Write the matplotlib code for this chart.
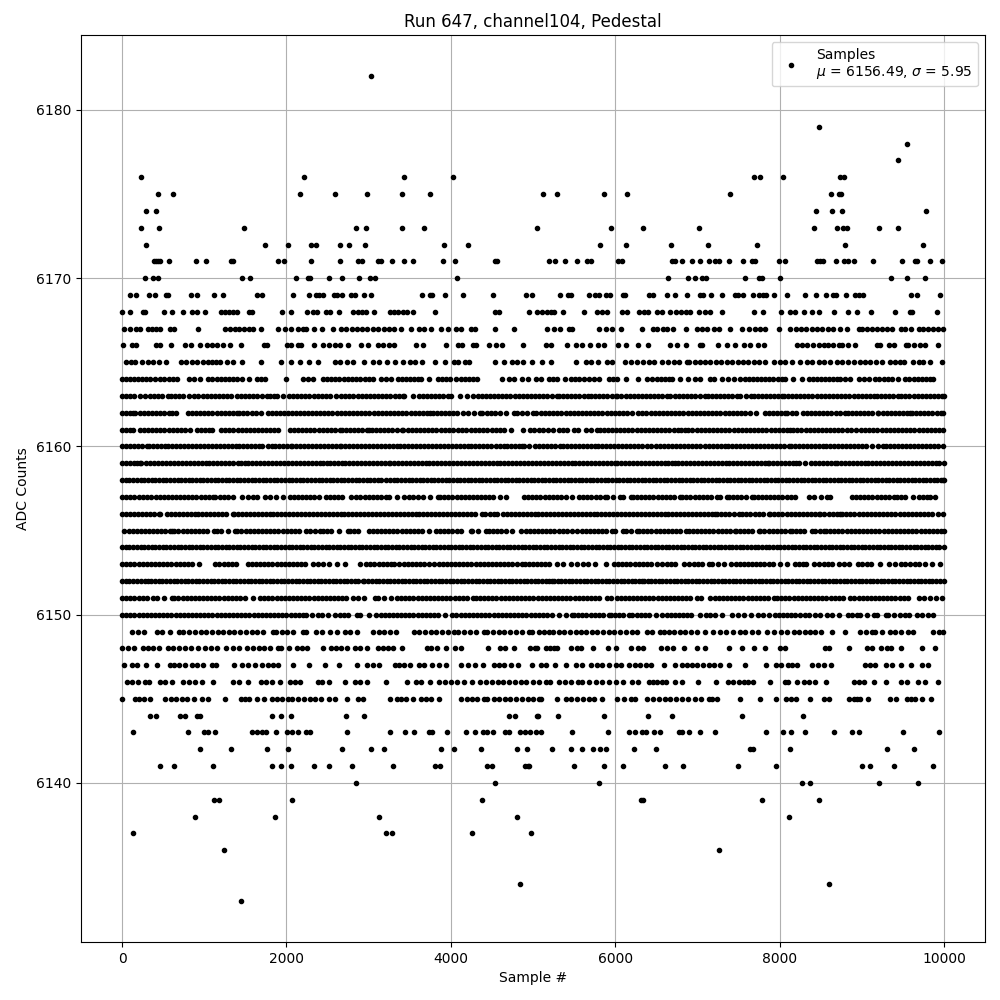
import matplotlib
matplotlib.use("Agg")
import matplotlib.pyplot as plt

# sample numbers, one list per ADC level
s_6182 = [3026]
s_6179 = [8479]
s_6178 = [9548]
s_6177 = [9438]
s_6176 = [226, 2214, 3426, 4032, 7689, 7762, 8041, 8734, 8786]
s_6175 = [432, 614, 2165, 2590, 2977, 3402, 3741, 5125, 5295, 5866, 6146, 7397, 8624, 8722, 8746]
s_6174 = [291, 412, 8442, 8637, 8758, 9779]
s_6173 = [226, 444, 1487, 2844, 2965, 3402, 3668, 5050, 5951, 6340, 7021, 8418, 8697, 8770, 8823, 9208, 9438]
s_6172 = [291, 1741, 2020, 2299, 2359, 2650, 2759, 2953, 3911, 4214, 5818, 6134, 6680, 7130, 7725, 8794, 9742]
s_6171 = [384, 408, 432, 456, 566, 905, 1026, 1321, 1345, 1899, 1972, 2299, 2650, 2868, 2917, 3111, 3151,
          3280, 3426, 3535, 3899, 4056, 4537, 4565, 5198, 5271, 5393, 5538, 5660, 5708, 6036, 6085, 6693,
          6729, 6818, 6935, 7033, 7142, 7215, 7264, 7385, 7555, 7665, 7701, 7993, 8066, 8454, 8490, 8527,
          8685, 8782, 8831, 8904, 9135, 9487, 9645, 9669, 9827, 9973]
s_6170 = [275, 376, 432, 1462, 1559, 2117, 2262, 2287, 2517, 2674, 2880, 3014, 3074, 4080, 6644, 6887, 6972,
          7057, 7106, 7580, 7750, 7786, 8005, 9353, 9548, 9767]
s_6169 = [93, 166, 323, 396, 529, 553, 844, 917, 1123, 1232, 1644, 1705, 2081, 2275, 2359, 2396, 2444, 2578,
          2614, 2674, 2784, 2832, 2941, 3026, 3644, 3741, 3765, 3923, 4153, 4517, 4917, 4992, 5332, 5429, 5465,
          5684, 5757, 5806, 5891, 5939, 6097, 6122, 6413, 6462, 6632, 6729, 6875, 7033, 7069, 7166, 7300, 7458,
          7494, 7555, 7677, 7750, 7798, 7835, 7932, 8090, 8308, 8442, 8564, 8649, 8685, 8807, 8916, 8965, 9013,
          9597, 9669, 9949]
s_6168 = [0, 93, 250, 283, 505, 602, 747, 856, 909, 1014, 1208, 1256, 1305, 1353, 1402, 1547, 1584, 1947, 2056,
          2250, 2323, 2372, 2481, 2529, 2638, 2808, 2868, 2917, 2965, 3062, 3256, 3305, 3353, 3418, 3466, 3535,
          3802, 4533, 4581, 4953, 5052, 5113, 5170, 5215, 5255, 5364, 5623, 5781, 5842, 5903, 6085, 6146, 6288,
          6348, 6401, 6510, 6571, 6672, 6735, 6795, 6855, 6915, 7016, 7088, 7158, 7300, 7689, 7794, 8017, 8130,
          8191, 8296, 8394, 8475, 8661, 8835, 8940, 9110, 9406, 9588, 9608, 9912]
s_6167 = [20, 93, 174, 214, 311, 364, 412, 465, 586, 634, 929, 1252, 1310, 1368, 1426, 1487, 1540, 1596, 1689,
          1899, 1988, 2060, 2141, 2202, 2242, 2335, 2432, 2565, 2667, 2730, 2795, 2860, 2925, 2985, 3050, 3111,
          3192, 3244, 3313, 3394, 3515, 3608, 3676, 3757, 3886, 3963, 4068, 4129, 4242, 4290, 4541, 4767, 5174,
          5259, 5328, 5437, 5478, 5806, 5891, 5964, 6069, 6328, 6462, 6510, 6579, 6632, 6705, 6855, 6996, 7060,
          7118, 7199, 7260, 7401, 7543, 7624, 7705, 7766, 7823, 7993, 8130, 8195, 8260, 8325, 8390, 8455, 8520,
          8585, 8650, 8738, 8819, 8961, 9001, 9062, 9125, 9190, 9250, 9310, 9365, 9479, 9527, 9600, 9690, 9750,
          9810, 9870, 9930, 9993]
s_6166 = [8, 125, 174, 412, 465, 590, 760, 844, 953, 1030, 1095, 1160, 1225, 1313, 1450, 1725, 1765, 2008, 2060,
          2141, 2182, 2335, 2444, 2515, 2586, 2654, 2751, 2901, 2990, 3111, 3180, 3245, 3313, 3571, 3656, 3939,
          4084, 4141, 4270, 4303, 4464, 4545, 4626, 4880, 5162, 5222, 5417, 5518, 5599, 5696, 5793, 5866, 6036,
          6126, 6279, 6401, 6668, 6753, 6863, 7033, 7057, 7251, 7361, 7454, 7567, 7644, 7737, 7806, 8211, 8272,
          8333, 8405, 8475, 8535, 8590, 8645, 8717, 8758, 8831, 8916, 9183, 9223, 9337, 9394, 9540, 9568, 9641,
          9705, 9771, 9928]
s_6165 = [52, 110, 162, 242, 310, 375, 444, 529, 715, 780, 850, 915, 985, 1050, 1091, 1143, 1192, 1272, 1353,
          1454, 1693, 1931, 2056, 2161, 2275, 2380, 2586, 2646, 2735, 2808, 2949, 3050, 3131, 3220, 3317, 3422,
          3507, 3567, 3648, 3810, 3923, 4040, 4092, 4173, 4222, 4541, 4642, 4747, 4808, 4880, 4989, 5113, 5214,
          5518, 5639, 5700, 5793, 5903, 5964, 6113, 6194, 6267, 6340, 6409, 6474, 6571, 6640, 6710, 6780, 6875,
          6895, 6965, 7030, 7098, 7158, 7225, 7290, 7355, 7420, 7490, 7555, 7620, 7685, 7746, 7827, 7928, 8000,
          8070, 8150, 8252, 8333, 8394, 8475, 8545, 8616, 8697, 8765, 8835, 8905, 8975, 9041, 9102, 9170, 9240,
          9345, 9406, 9465, 9519, 9629, 9690, 9750, 9831, 9973]
s_6164 = [0, 50, 101, 141, 190, 240, 290, 340, 404, 465, 515, 565, 615, 667, 816, 880, 949, 1050, 1100, 1150, 1200,
          1250, 1300, 1350, 1400, 1454, 1547, 1636, 1690, 1737, 2000, 2202, 2265, 2323, 2444, 2495, 2545, 2595,
          2645, 2695, 2745, 2795, 2845, 2895, 2950, 3000, 3050, 3151, 3210, 3272, 3353, 3405, 3455, 3505, 3555,
          3595, 3636, 3737, 3838, 3890, 3940, 3990, 4060, 4121, 4170, 4220, 4270, 4323, 4618, 4707, 4767, 4868,
          4941, 5030, 5093, 5194, 5245, 5295, 5385, 5457, 5510, 5560, 5620, 5680, 5741, 5802, 5923, 5975, 6024,
          6134, 6279, 6389, 6450, 6510, 6560, 6610, 6655, 6693, 6794, 6887, 6968, 7037, 7158, 7199, 7300, 7370,
          7442, 7523, 7575, 7625, 7675, 7725, 7775, 7825, 7875, 7925, 7975, 8025, 8070, 8163, 8272, 8353, 8405,
          8455, 8505, 8555, 8605, 8655, 8700, 8738, 8798, 8860, 8960, 9021, 9090, 9163, 9215, 9265, 9315, 9365,
          9446, 9527, 9580, 9630, 9680, 9730, 9780, 9830, 9871]
s_6163 = [0, 50, 100, 150, 214, 283, 335, 385, 435, 490, 554, 594, 645, 695, 745, 810, 877, 929, 980, 1030, 1080,
          1130, 1180, 1230, 1280, 1330, 1394, 1442, 1495, 1545, 1595, 1645, 1700, 1765, 1798, 1846, 1890, 1960,
          2031, 2080, 2130, 2180, 2230, 2280, 2330, 2380, 2430, 2480, 2530, 2606, 2667, 2715, 2765, 2815, 2865,
          2915, 2965, 3015, 3065, 3115, 3165, 3215, 3265, 3315, 3365, 3414, 3434, 3544, 3608, 3660, 3710, 3760,
          3810, 3860, 3910, 3960, 4000, 4113, 4202, 4265, 4325, 4384, 4425, 4475, 4525, 4575, 4625, 4675, 4725,
          4775, 4825, 4875, 4925, 4975, 5025, 5075, 5125, 5174, 5235, 5295, 5315, 5365, 5415, 5465, 5515, 5565,
          5615, 5672, 5704, 5755, 5805, 5855, 5905, 5955, 6004, 6024, 6075, 6125, 6175, 6225, 6275, 6325, 6375,
          6425, 6475, 6525, 6575, 6632, 6672, 6725, 6775, 6825, 6875, 6925, 6975, 7030, 7089, 7126, 7175, 7225,
          7275, 7325, 7375, 7425, 7482, 7515, 7585, 7656, 7685, 7735, 7785, 7835, 7885, 7935, 7985, 8029, 8049,
          8100, 8150, 8200, 8250, 8300, 8350, 8400, 8450, 8500, 8550, 8600, 8650, 8700, 8750, 8800, 8850, 8900,
          8950, 9000, 9050, 9100, 9143, 9183, 9235, 9285, 9335, 9385, 9438, 9479, 9530, 9580, 9630, 9680, 9730,
          9779, 9830, 9880, 9930, 9970, 9999]
s_6162 = [0, 50, 100, 134, 162, 215, 265, 315, 365, 415, 465, 515, 565, 612, 659, 796, 850, 901, 950, 1000, 1050,
          1100, 1150, 1200, 1250, 1300, 1350, 1394, 1426, 1475, 1525, 1575, 1625, 1685, 1770, 1820, 1870, 1920,
          1970, 2020, 2070, 2120, 2161, 2210, 2260, 2310, 2360, 2410, 2460, 2510, 2560, 2610, 2660, 2710, 2760,
          2810, 2860, 2910, 2960, 3010, 3060, 3110, 3160, 3210, 3260, 3310, 3360, 3410, 3460, 3510, 3560, 3610,
          3660, 3710, 3749, 3778, 3830, 3880, 3930, 3980, 4030, 4080, 4149, 4214, 4280, 4351, 4384, 4435, 4485,
          4535, 4594, 4674, 4763, 4803, 4860, 4929, 5000, 5040, 5093, 5145, 5195, 5245, 5295, 5345, 5395, 5445,
          5495, 5545, 5595, 5645, 5695, 5745, 5795, 5845, 5895, 5945, 5995, 6045, 6095, 6145, 6206, 6280, 6330,
          6380, 6430, 6480, 6530, 6580, 6630, 6680, 6730, 6780, 6830, 6880, 6930, 6980, 7030, 7080, 7130, 7180,
          7230, 7280, 7330, 7380, 7430, 7480, 7530, 7580, 7644, 7713, 7818, 7870, 7920, 7970, 8020, 8070, 8090,
          8150, 8203, 8280, 8330, 8380, 8430, 8480, 8530, 8580, 8630, 8680, 8730, 8798, 8827, 8880, 8930, 8980,
          9030, 9080, 9130, 9195, 9203, 9255, 9305, 9355, 9405, 9455, 9505, 9555, 9588, 9608, 9660, 9710, 9760,
          9810, 9860, 9910, 9960, 9993]
s_6161 = [0, 50, 93, 129, 214, 265, 315, 365, 415, 465, 515, 565, 615, 665, 715, 770, 828, 909, 960, 1010, 1060,
          1091, 1204, 1255, 1305, 1355, 1405, 1455, 1505, 1555, 1605, 1655, 1705, 1755, 1805, 1850, 1891, 2040,
          2090, 2140, 2190, 2240, 2290, 2340, 2390, 2440, 2490, 2540, 2590, 2646, 2674, 2725, 2775, 2825, 2875,
          2925, 2975, 3010, 3038, 3090, 3140, 3190, 3240, 3290, 3340, 3402, 3422, 3475, 3525, 3575, 3625, 3675,
          3725, 3775, 3825, 3875, 3925, 3975, 4025, 4085, 4141, 4190, 4240, 4290, 4340, 4390, 4444, 4497, 4550,
          4600, 4650, 4727, 4880, 4957, 5010, 5070, 5125, 5185, 5243, 5315, 5365, 5415, 5498, 5542, 5640, 5710,
          5781, 5810, 5860, 5910, 5960, 6010, 6060, 6110, 6160, 6210, 6260, 6310, 6360, 6410, 6460, 6510, 6560,
          6610, 6660, 6710, 6760, 6800, 6846, 6887, 6940, 6990, 7040, 7090, 7140, 7190, 7240, 7290, 7340, 7390,
          7440, 7490, 7540, 7590, 7640, 7690, 7740, 7790, 7840, 7890, 7940, 7990, 8040, 8090, 8130, 8163, 8215,
          8265, 8315, 8365, 8415, 8465, 8515, 8565, 8615, 8665, 8715, 8765, 8815, 8865, 8928, 8989, 9040, 9090,
          9140, 9190, 9240, 9290, 9340, 9390, 9440, 9490, 9540, 9590, 9640, 9690, 9740, 9790, 9840, 9890, 9940,
          9993]
s_6160 = [0, 48, 96, 144, 192, 240, 303, 323, 372, 420, 468, 516, 564, 612, 660, 708, 756, 804, 852, 900, 948, 996,
          1044, 1092, 1140, 1188, 1236, 1284, 1332, 1380, 1428, 1476, 1524, 1572, 1620, 1660, 1697, 1770, 1818,
          1866, 1914, 1962, 2010, 2060, 2072, 2120, 2168, 2216, 2264, 2312, 2360, 2408, 2456, 2504, 2552, 2600,
          2646, 2667, 2715, 2763, 2811, 2859, 2907, 2955, 3003, 3051, 3099, 3147, 3195, 3243, 3291, 3339, 3387,
          3435, 3483, 3531, 3579, 3627, 3675, 3723, 3771, 3819, 3867, 3915, 3963, 4011, 4059, 4107, 4155, 4203,
          4251, 4299, 4347, 4395, 4443, 4491, 4545, 4593, 4641, 4689, 4737, 4785, 4830, 4868, 4888, 4951, 5024,
          5072, 5120, 5168, 5216, 5264, 5324, 5364, 5412, 5460, 5508, 5556, 5604, 5652, 5700, 5748, 5796, 5844,
          5892, 5940, 5988, 6036, 6084, 6132, 6180, 6228, 6276, 6330, 6389, 6441, 6498, 6546, 6594, 6642, 6690,
          6738, 6786, 6834, 6882, 6930, 6978, 7026, 7097, 7138, 7186, 7234, 7282, 7330, 7378, 7426, 7474, 7522,
          7570, 7618, 7666, 7714, 7762, 7810, 7858, 7906, 7954, 8002, 8050, 8118, 8138, 8186, 8234, 8282, 8330,
          8378, 8426, 8474, 8522, 8570, 8618, 8666, 8714, 8762, 8810, 8858, 8906, 8954, 9005, 9050, 9122, 9203,
          9252, 9300, 9348, 9396, 9444, 9492, 9540, 9588, 9636, 9684, 9732, 9780, 9828, 9876, 9924, 9993]
s_6159 = [0, 48, 96, 144, 180, 222, 234, 295, 343, 391, 439, 487, 535, 583, 631, 679, 727, 775, 823, 871, 919, 967,
          1015, 1063, 1111, 1159, 1207, 1255, 1303, 1351, 1414, 1442, 1490, 1538, 1586, 1634, 1682, 1730, 1778,
          1826, 1874, 1922, 1970, 2018, 2066, 2114, 2162, 2210, 2258, 2306, 2354, 2402, 2450, 2490, 2525, 2574,
          2622, 2670, 2718, 2766, 2814, 2862, 2910, 2958, 3006, 3054, 3102, 3150, 3198, 3244, 3260, 3308, 3356,
          3404, 3452, 3500, 3548, 3596, 3644, 3692, 3740, 3788, 3836, 3884, 3932, 3980, 4028, 4076, 4124, 4172,
          4220, 4268, 4316, 4364, 4412, 4460, 4508, 4556, 4604, 4652, 4700, 4748, 4796, 4844, 4892, 4940, 4988,
          5036, 5084, 5132, 5180, 5228, 5276, 5324, 5372, 5420, 5468, 5516, 5564, 5612, 5660, 5708, 5756, 5804,
          5852, 5900, 5948, 5996, 6024, 6072, 6120, 6168, 6216, 6264, 6312, 6360, 6408, 6456, 6504, 6552, 6600,
          6648, 6696, 6733, 6766, 6814, 6862, 6910, 6958, 7006, 7054, 7102, 7150, 7198, 7246, 7294, 7342, 7390,
          7438, 7486, 7534, 7582, 7630, 7678, 7726, 7774, 7822, 7859, 7875, 7923, 7971, 8019, 8067, 8115, 8163,
          8205, 8240, 8313, 8385, 8433, 8481, 8529, 8577, 8625, 8669, 8697, 8745, 8793, 8841, 8889, 8937, 8985,
          9033, 9081, 9129, 9177, 9225, 9273, 9321, 9369, 9417, 9465, 9513, 9561, 9609, 9657, 9705, 9753, 9801,
          9849, 9897, 9945, 9999]
s_6158 = [0, 45, 90, 135, 180, 225, 270, 315, 360, 405, 450, 495, 540, 585, 630, 675, 720, 765, 810, 855, 900, 945,
          990, 1035, 1080, 1125, 1170, 1215, 1260, 1305, 1350, 1395, 1440, 1485, 1530, 1575, 1620, 1665, 1710,
          1755, 1800, 1845, 1890, 1935, 1980, 2025, 2070, 2115, 2160, 2205, 2250, 2295, 2345, 2390, 2435, 2480,
          2525, 2570, 2615, 2660, 2705, 2750, 2795, 2840, 2885, 2930, 2975, 3020, 3065, 3110, 3155, 3215, 3260,
          3305, 3350, 3395, 3440, 3485, 3530, 3575, 3620, 3665, 3710, 3755, 3800, 3845, 3890, 3935, 3980, 4025,
          4070, 4115, 4160, 4205, 4250, 4295, 4340, 4385, 4430, 4475, 4520, 4565, 4610, 4655, 4700, 4745, 4790,
          4835, 4880, 4925, 4970, 5015, 5060, 5105, 5150, 5195, 5240, 5285, 5330, 5375, 5420, 5465, 5510, 5555,
          5600, 5645, 5690, 5735, 5780, 5825, 5870, 5915, 5960, 6005, 6050, 6095, 6140, 6185, 6230, 6275, 6320,
          6365, 6410, 6455, 6500, 6545, 6590, 6635, 6680, 6725, 6770, 6815, 6860, 6905, 6950, 6995, 7040, 7085,
          7130, 7175, 7220, 7265, 7310, 7355, 7400, 7445, 7490, 7535, 7580, 7625, 7670, 7715, 7760, 7805, 7850,
          7895, 7940, 7985, 8030, 8075, 8120, 8165, 8210, 8255, 8300, 8345, 8390, 8435, 8480, 8525, 8570, 8615,
          8660, 8705, 8750, 8795, 8840, 8885, 8930, 8975, 9020, 9065, 9110, 9155, 9200, 9245, 9290, 9335, 9380,
          9425, 9470, 9515, 9560, 9605, 9650, 9695, 9740, 9785, 9830, 9875, 9920, 9965, 9985, 9999]
s_6157 = [0, 50, 100, 150, 200, 250, 300, 350, 410, 465, 505, 555, 605, 655, 705, 755, 805, 855, 905, 955, 1005,
          1055, 1103, 1135, 1190, 1240, 1290, 1345, 1454, 1535, 1590, 1644, 1737, 1800, 1870, 1959, 2040, 2090,
          2140, 2190, 2240, 2290, 2340, 2396, 2477, 2530, 2580, 2630, 2680, 2788, 2848, 2900, 2950, 3000, 3050,
          3100, 3150, 3212, 3244, 3340, 3434, 3487, 3545, 3600, 3656, 3745, 3838, 3870, 3920, 3970, 4020, 4070,
          4120, 4170, 4220, 4270, 4323, 4363, 4415, 4465, 4515, 4594, 4674, 4888, 4940, 4990, 5040, 5090, 5140,
          5190, 5240, 5290, 5340, 5400, 5470, 5559, 5610, 5660, 5710, 5760, 5810, 5874, 5903, 5975, 6053, 6093,
          6186, 6214, 6265, 6315, 6365, 6415, 6465, 6515, 6565, 6615, 6665, 6715, 6794, 6814, 6865, 6915, 6965,
          7015, 7065, 7115, 7165, 7239, 7280, 7360, 7381, 7435, 7485, 7535, 7590, 7664, 7685, 7735, 7785, 7835,
          7885, 7935, 7985, 8035, 8085, 8135, 8183, 8353, 8420, 8500, 8576, 8616, 8880, 8930, 8980, 9030, 9080,
          9130, 9180, 9230, 9280, 9330, 9386, 9426, 9480, 9530, 9617, 9690, 9740, 9791, 9832, 9892]
s_6156 = [0, 48, 96, 144, 192, 240, 288, 336, 384, 444, 465, 545, 593, 641, 689, 737, 785, 833, 881, 929, 977, 1025,
          1073, 1121, 1169, 1217, 1265, 1345, 1361, 1410, 1458, 1506, 1554, 1602, 1650, 1698, 1746, 1794, 1842,
          1890, 1938, 1986, 2034, 2082, 2130, 2178, 2226, 2274, 2322, 2370, 2418, 2466, 2514, 2562, 2610, 2658,
          2706, 2754, 2802, 2850, 2898, 2946, 2994, 3042, 3090, 3138, 3186, 3234, 3282, 3330, 3378, 3426, 3474,
          3522, 3570, 3618, 3666, 3714, 3762, 3810, 3858, 3906, 3954, 4002, 4050, 4098, 4146, 4194, 4242, 4290,
          4383, 4416, 4472, 4525, 4565, 4634, 4682, 4730, 4778, 4826, 4874, 4922, 4970, 5018, 5066, 5114, 5162,
          5210, 5258, 5306, 5354, 5402, 5450, 5498, 5546, 5599, 5640, 5688, 5736, 5784, 5832, 5880, 5928, 5976,
          6024, 6072, 6120, 6168, 6216, 6264, 6312, 6360, 6408, 6456, 6504, 6552, 6600, 6648, 6696, 6744, 6792,
          6840, 6888, 6936, 6984, 7032, 7080, 7128, 7176, 7219, 7239, 7290, 7340, 7390, 7440, 7502, 7543, 7595,
          7645, 7695, 7745, 7795, 7867, 7887, 7935, 7985, 8035, 8085, 8135, 8185, 8235, 8285, 8335, 8385, 8435,
          8475, 8495, 8545, 8595, 8645, 8695, 8738, 8758, 8810, 8860, 8910, 8960, 9010, 9060, 9110, 9160, 9210,
          9260, 9310, 9360, 9410, 9460, 9510, 9560, 9610, 9660, 9710, 9760, 9811, 9851, 9925, 9993]
s_6155 = [28, 78, 128, 178, 228, 278, 328, 378, 428, 478, 528, 578, 606, 634, 685, 735, 785, 835, 885, 935, 985,
          1035, 1119, 1151, 1205, 1290, 1374, 1402, 1452, 1502, 1552, 1602, 1652, 1702, 1752, 1802, 1852, 1902,
          1952, 2002, 2052, 2102, 2152, 2242, 2283, 2345, 2404, 2444, 2495, 2545, 2640, 2747, 2767, 2820, 2870,
          3010, 3050, 3100, 3150, 3200, 3250, 3300, 3350, 3400, 3450, 3500, 3550, 3600, 3650, 3737, 3818, 3870,
          3920, 3970, 4020, 4070, 4120, 4242, 4262, 4330, 4424, 4464, 4515, 4565, 4615, 4665, 4747, 4848, 4909,
          4960, 5010, 5060, 5110, 5160, 5210, 5260, 5310, 5360, 5410, 5470, 5538, 5590, 5640, 5690, 5740, 5790,
          5840, 5890, 5964, 5996, 6093, 6126, 6195, 6267, 6288, 6340, 6390, 6440, 6490, 6540, 6590, 6640, 6690,
          6740, 6790, 6855, 6895, 6945, 6995, 7045, 7095, 7145, 7195, 7245, 7295, 7345, 7395, 7462, 7470, 7520,
          7570, 7620, 7670, 7746, 7766, 7815, 7865, 7915, 7965, 8015, 8065, 8130, 8150, 8200, 8250, 8300, 8394,
          8426, 8490, 8535, 8564, 8615, 8665, 8715, 8765, 8815, 8865, 8915, 8965, 9015, 9065, 9115, 9165, 9215,
          9265, 9315, 9365, 9415, 9465, 9515, 9565, 9615, 9665, 9715, 9765, 9815, 9865, 9915, 9960, 9999]
s_6154 = [0, 45, 90, 135, 180, 225, 270, 315, 360, 405, 450, 495, 540, 585, 630, 675, 720, 765, 810, 855, 900, 945,
          990, 1035, 1080, 1125, 1170, 1215, 1260, 1305, 1350, 1395, 1440, 1485, 1530, 1575, 1620, 1665, 1710,
          1755, 1800, 1845, 1890, 1935, 1980, 2025, 2070, 2115, 2160, 2205, 2250, 2295, 2340, 2385, 2430, 2475,
          2520, 2565, 2610, 2655, 2700, 2745, 2790, 2835, 2880, 2925, 2970, 3015, 3060, 3105, 3150, 3195, 3240,
          3285, 3330, 3375, 3420, 3465, 3510, 3555, 3600, 3645, 3690, 3735, 3780, 3825, 3870, 3915, 3960, 4005,
          4050, 4095, 4140, 4185, 4230, 4275, 4320, 4365, 4410, 4455, 4500, 4545, 4590, 4635, 4680, 4725, 4770,
          4815, 4860, 4905, 4950, 4995, 5040, 5085, 5130, 5175, 5220, 5265, 5310, 5355, 5400, 5445, 5490, 5535,
          5580, 5625, 5670, 5715, 5760, 5805, 5850, 5895, 5940, 5985, 6030, 6075, 6120, 6165, 6210, 6255, 6300,
          6345, 6390, 6435, 6480, 6525, 6570, 6615, 6660, 6705, 6750, 6795, 6840, 6885, 6930, 6975, 7020, 7065,
          7110, 7155, 7200, 7245, 7290, 7335, 7380, 7425, 7470, 7515, 7560, 7605, 7650, 7695, 7740, 7785, 7830,
          7875, 7920, 7965, 8010, 8055, 8100, 8145, 8190, 8235, 8280, 8325, 8370, 8415, 8460, 8505, 8550, 8595,
          8640, 8685, 8730, 8775, 8820, 8865, 8910, 8955, 9000, 9045, 9090, 9135, 9180, 9225, 9270, 9315, 9360,
          9405, 9450, 9495, 9540, 9585, 9630, 9675, 9720, 9765, 9810, 9855, 9900, 9945, 9999]
s_6153 = [0, 50, 100, 150, 200, 250, 300, 350, 400, 450, 500, 550, 600, 650, 700, 750, 800, 850, 941, 1131, 1185,
          1235, 1285, 1335, 1385, 1535, 1576, 1630, 1680, 1730, 1780, 1830, 1880, 1930, 1980, 2030, 2080, 2130,
          2180, 2230, 2323, 2384, 2450, 2520, 2620, 2707, 2897, 2969, 3020, 3070, 3120, 3170, 3220, 3270, 3313,
          3373, 3425, 3475, 3525, 3575, 3625, 3675, 3729, 3798, 3850, 3900, 3950, 4000, 4050, 4100, 4150, 4200,
          4250, 4300, 4350, 4400, 4450, 4500, 4550, 4600, 4650, 4700, 4750, 4800, 4868, 4900, 4950, 5000, 5050,
          5100, 5150, 5200, 5295, 5368, 5465, 5538, 5605, 5672, 5753, 5891, 5984, 6035, 6085, 6135, 6185, 6235,
          6285, 6335, 6385, 6435, 6510, 6571, 6625, 6675, 6725, 6834, 6903, 6956, 7005, 7055, 7138, 7178, 7250,
          7320, 7413, 7465, 7515, 7565, 7615, 7665, 7715, 7765, 7815, 7865, 7915, 8009, 8090, 8183, 8231, 8280,
          8321, 8414, 8483, 8535, 8585, 8635, 8718, 8778, 8850, 8952, 9000, 9060, 9114, 9223, 9336, 9410, 9479,
          9527, 9590, 9649, 9690, 9770, 9852, 9953]
s_6152 = [0, 45, 90, 135, 180, 225, 283, 311, 356, 401, 446, 491, 536, 581, 626, 671, 716, 761, 806, 851, 896, 941,
          986, 1031, 1076, 1121, 1166, 1211, 1256, 1301, 1346, 1391, 1436, 1481, 1526, 1571, 1616, 1661, 1706,
          1751, 1796, 1841, 1886, 1931, 1976, 2021, 2066, 2111, 2156, 2201, 2246, 2291, 2336, 2381, 2426, 2471,
          2516, 2561, 2606, 2651, 2696, 2741, 2786, 2831, 2876, 2929, 2949, 2995, 3040, 3085, 3130, 3175, 3220,
          3265, 3310, 3355, 3400, 3445, 3490, 3535, 3580, 3625, 3670, 3715, 3760, 3805, 3850, 3895, 3940, 3985,
          4030, 4075, 4120, 4165, 4210, 4255, 4300, 4345, 4390, 4435, 4480, 4525, 4570, 4615, 4660, 4705, 4750,
          4795, 4840, 4885, 4930, 4975, 5020, 5065, 5110, 5155, 5190, 5226, 5255, 5300, 5345, 5390, 5435, 5480,
          5525, 5570, 5615, 5660, 5705, 5750, 5795, 5840, 5885, 5930, 5975, 6020, 6065, 6110, 6155, 6200, 6245,
          6290, 6328, 6348, 6395, 6440, 6485, 6530, 6575, 6620, 6665, 6710, 6755, 6800, 6845, 6890, 6935, 6980,
          7025, 7070, 7115, 7160, 7205, 7250, 7295, 7340, 7385, 7430, 7475, 7520, 7565, 7610, 7655, 7700, 7745,
          7790, 7835, 7880, 7925, 7970, 8015, 8060, 8105, 8150, 8195, 8240, 8285, 8330, 8375, 8420, 8465, 8510,
          8555, 8600, 8645, 8690, 8735, 8780, 8825, 8870, 8915, 8960, 9005, 9050, 9095, 9140, 9185, 9230, 9275,
          9320, 9365, 9410, 9455, 9500, 9545, 9590, 9635, 9680, 9725, 9770, 9815, 9860, 9905, 9950, 9999]
s_6151 = [0, 50, 100, 150, 200, 250, 300, 376, 424, 515, 606, 634, 685, 735, 785, 835, 885, 935, 985, 1035, 1085,
          1135, 1185, 1235, 1285, 1335, 1385, 1435, 1500, 1596, 1677, 1730, 1780, 1830, 1880, 1930, 1980, 2030,
          2080, 2130, 2180, 2230, 2280, 2330, 2380, 2430, 2480, 2530, 2580, 2630, 2680, 2727, 2808, 2875, 2945,
          3082, 3111, 3190, 3272, 3341, 3395, 3445, 3495, 3545, 3595, 3645, 3695, 3745, 3795, 3845, 3895, 3945,
          3995, 4045, 4095, 4145, 4195, 4270, 4303, 4355, 4405, 4455, 4505, 4555, 4605, 4655, 4705, 4755, 4805,
          4855, 4905, 4955, 5005, 5055, 5105, 5155, 5205, 5255, 5305, 5355, 5405, 5455, 5505, 5555, 5605, 5655,
          5705, 5755, 5805, 5903, 5943, 6024, 6065, 6115, 6165, 6215, 6265, 6315, 6365, 6415, 6465, 6515, 6565,
          6615, 6665, 6715, 6765, 6815, 6865, 6915, 6996, 7041, 7158, 7210, 7260, 7310, 7360, 7410, 7460, 7510,
          7560, 7610, 7660, 7710, 7760, 7810, 7860, 7928, 7968, 8020, 8070, 8120, 8170, 8220, 8270, 8320, 8370,
          8420, 8470, 8520, 8570, 8620, 8670, 8720, 8770, 8859, 8900, 8961, 9010, 9060, 9110, 9160, 9210, 9260,
          9310, 9360, 9410, 9460, 9510, 9560, 9690, 9758, 9832, 9900, 9973]
s_6150 = [0, 50, 100, 150, 200, 250, 300, 350, 400, 450, 500, 550, 600, 650, 700, 750, 800, 850, 900, 950, 1000,
          1050, 1100, 1150, 1200, 1250, 1300, 1350, 1400, 1450, 1500, 1550, 1600, 1650, 1700, 1750, 1800, 1850,
          1900, 1950, 2000, 2050, 2100, 2150, 2202, 2242, 2310, 2384, 2432, 2510, 2586, 2646, 2700, 2750, 2856,
          2889, 3002, 3091, 3145, 3195, 3245, 3295, 3345, 3395, 3445, 3495, 3545, 3595, 3645, 3695, 3745, 3795,
          3845, 3931, 4008, 4068, 4120, 4170, 4220, 4270, 4320, 4370, 4420, 4470, 4520, 4570, 4620, 4670, 4720,
          4770, 4820, 4870, 4920, 4970, 5020, 5070, 5120, 5174, 5226, 5315, 5395, 5478, 5498, 5550, 5600, 5650,
          5700, 5750, 5800, 5850, 5923, 5943, 5995, 6045, 6095, 6166, 6207, 6260, 6310, 6360, 6410, 6490, 6571,
          6625, 6675, 6725, 6775, 6825, 6875, 6927, 7037, 7100, 7158, 7219, 7300, 7421, 7490, 7563, 7656, 7737,
          7798, 7870, 7948, 7988, 8040, 8090, 8140, 8190, 8250, 8312, 8361, 8426, 8495, 8576, 8636, 8726, 8827,
          8885, 8940, 8981, 9060, 9143, 9191, 9292, 9324, 9390, 9460, 9527, 9576, 9677, 9730, 9811, 9864]
s_6149 = [121, 190, 263, 424, 485, 585, 687, 747, 815, 885, 955, 1025, 1095, 1172, 1224, 1295, 1365, 1435, 1505,
          1575, 1645, 1715, 1838, 1871, 1940, 2010, 2080, 2202, 2242, 2363, 2432, 2533, 2620, 2711, 2776, 2856,
          3050, 3120, 3190, 3260, 3333, 3555, 3616, 3685, 3755, 3825, 3895, 3965, 4040, 4092, 4160, 4230, 4300,
          4404, 4444, 4510, 4580, 4650, 4720, 4790, 4860, 4949, 4989, 5070, 5130, 5194, 5243, 5310, 5380, 5450,
          5518, 5579, 5650, 5721, 5781, 5850, 5920, 5990, 6060, 6130, 6200, 6270, 6389, 6449, 6539, 6591, 6650,
          6713, 6782, 6850, 6920, 6996, 7098, 7190, 7280, 7349, 7430, 7523, 7583, 7664, 7737, 7847, 7930, 8021,
          8090, 8171, 8240, 8310, 8373, 8426, 8507, 8636, 8790, 8981, 9050, 9122, 9155, 9250, 9345, 9406, 9480,
          9560, 9617, 9872, 9935, 9993]
s_6148 = [0, 70, 141, 255, 320, 380, 444, 553, 620, 690, 760, 840, 929, 1010, 1080, 1150, 1260, 1345, 1426, 1523,
          1590, 1660, 1730, 1800, 1899, 1935, 2032, 2129, 2190, 2250, 2444, 2545, 2606, 2667, 2740, 2828, 2897,
          2977, 3111, 3180, 3240, 3293, 3406, 3705, 3757, 3830, 3939, 4048, 4121, 4456, 4593, 4660, 4767, 4957,
          5022, 5052, 5154, 5205, 5255, 5295, 5465, 5530, 5587, 5733, 5915, 6012, 6194, 6279, 6340, 6559, 6632,
          6700, 6838, 7000, 7094, 7385, 7543, 7689, 7823, 8009, 8070, 8547, 8596, 8843, 9062, 9122, 9232, 9305,
          9357, 9475, 9730, 9888]
s_6147 = [20, 121, 182, 295, 420, 578, 634, 687, 770, 850, 917, 990, 1091, 1139, 1361, 1462, 1535, 1616, 1705,
          1778, 1840, 1899, 2081, 2275, 2468, 2638, 2856, 2977, 3050, 3123, 3317, 3375, 3434, 3503, 3616, 3668,
          3769, 3850, 3939, 4121, 4205, 4290, 4396, 4525, 4590, 4646, 4727, 4820, 4989, 5101, 5154, 5271, 5405,
          5518, 5600, 5700, 5781, 5842, 5927, 6012, 6065, 6166, 6235, 6300, 6369, 6441, 6595, 6725, 6814, 6875,
          6935, 6996, 7065, 7135, 7205, 7280, 7385, 7580, 7835, 7956, 8021, 8102, 8155, 8211, 8394, 8467, 8535,
          8624, 9041, 9100, 9163, 9292, 9365, 9479, 9600, 9730, 9811]
s_6146 = [61, 121, 190, 283, 323, 465, 525, 602, 739, 810, 890, 970, 1111, 1345, 1426, 1527, 1685, 1750, 1830,
          1919, 2040, 2101, 2165, 2384, 2432, 2517, 2711, 2828, 2889, 2977, 3208, 3462, 3575, 3636, 3741, 3858,
          3930, 4000, 4080, 4165, 4262, 4355, 4432, 4500, 4570, 4640, 4710, 4780, 4850, 4920, 5000, 5070, 5154,
          5202, 5315, 5384, 5465, 5551, 5599, 5680, 5760, 5842, 5923, 6004, 6097, 6207, 6279, 6409, 6458, 6510,
          6565, 6620, 6733, 6814, 7008, 7227, 7373, 7430, 7502, 7563, 7620, 7673, 7879, 8061, 8102, 8211, 8292,
          8361, 8434, 8564, 8900, 8965, 9030, 9143, 9292, 9479, 9548, 9682, 9767, 9924]
s_6145 = [0, 162, 202, 263, 343, 525, 590, 660, 727, 788, 869, 970, 1050, 1252, 1442, 1495, 1547, 1636, 1729,
          1818, 1880, 1950, 2020, 2072, 2145, 2215, 2285, 2343, 2420, 2517, 2586, 2735, 2868, 2929, 3256, 3341,
          3394, 3450, 3535, 3636, 3700, 3757, 3858, 4121, 4195, 4262, 4315, 4404, 4444, 4525, 4585, 4655, 4725,
          4795, 4865, 4935, 5000, 5070, 5093, 5295, 5397, 5465, 5535, 5605, 5675, 5745, 5842, 6024, 6105, 6186,
          6239, 6389, 6460, 6530, 6600, 6672, 6741, 6810, 6880, 6976, 7045, 7138, 7178, 7239, 7523, 7766, 7956,
          8078, 8142, 8199, 8369, 8543, 8596, 8843, 8900, 8940, 8981, 9074, 9341, 9414, 9556, 9600, 9649, 9730,
          9847]
s_6144 = [335, 408, 707, 768, 917, 949, 1826, 1935, 2056, 2723, 2941, 4707, 4779, 5050, 5064, 5307, 5866, 6401,
          6693, 7543, 8284]
s_6143 = [129, 796, 998, 1050, 1131, 1584, 1644, 1700, 1757, 1870, 2008, 2072, 2141, 2242, 2291, 2735, 3256, 3438,
          3547, 3737, 3769, 3959, 4190, 4299, 4392, 4444, 4517, 4658, 4707, 4840, 4900, 4960, 5040, 5101, 5477,
          5915, 6170, 6243, 6328, 6369, 6474, 6547, 6773, 6814, 6899, 7033, 7215, 7835, 8041, 8138, 8308, 8661,
          8880, 8965, 9499, 9937]
s_6142 = [953, 1329, 1765, 2020, 2674, 3026, 3184, 3886, 4044, 4371, 4808, 4929, 5235, 5465, 5599, 5733, 5818, 5891,
          6231, 6498, 7640, 7680, 8126, 9305, 9633]
s_6141 = [456, 626, 1111, 1826, 1935, 2056, 2335, 2517, 2796, 3293, 3802, 3862, 4444, 4497, 4900, 4933, 4951, 5498,
          5866, 6097, 6607, 6826, 7494, 7956, 9001, 9098, 9390, 9864]
s_6140 = [2844, 4541, 5806, 8272, 8369, 9208, 9681]
s_6139 = [1123, 1184, 2068, 4383, 6308, 6340, 7786, 8479]
s_6138 = [881, 1862, 3123, 4808, 8114]
s_6137 = [129, 3208, 3280, 4262, 4977]
s_6136 = [1244, 7264]
s_6134 = [4844, 8600]
s_6133 = [1450]

adc_levels = [6182, 6179, 6178, 6177, 6176, 6175, 6174, 6173, 6172, 6171, 6170, 6169, 6168, 6167, 6166, 6165,
              6164, 6163, 6162, 6161, 6160, 6159, 6158, 6157, 6156, 6155, 6154, 6153, 6152, 6151, 6150, 6149,
              6148, 6147, 6146, 6145, 6144, 6143, 6142, 6141, 6140, 6139, 6138, 6137, 6136, 6134, 6133]
level_samples = [s_6182, s_6179, s_6178, s_6177, s_6176, s_6175, s_6174, s_6173, s_6172, s_6171, s_6170, s_6169,
                 s_6168, s_6167, s_6166, s_6165, s_6164, s_6163, s_6162, s_6161, s_6160, s_6159, s_6158, s_6157,
                 s_6156, s_6155, s_6154, s_6153, s_6152, s_6151, s_6150, s_6149, s_6148, s_6147, s_6146, s_6145,
                 s_6144, s_6143, s_6142, s_6141, s_6140, s_6139, s_6138, s_6137, s_6136, s_6134, s_6133]

mean_adc = 6156.49
std_adc = 5.95

x = []
y = []
for level, samples in zip(adc_levels, level_samples):
    for s in samples:
        x.append(s)
        y.append(level)

fig, ax = plt.subplots(figsize=(10, 10))
ax.plot(x, y, "k.", label=f"Samples\n$\\mu$ = {mean_adc:.2f}, $\\sigma$ = {std_adc:.2f}")
ax.set_title("Run 647, channel104, Pedestal")
ax.set_xlabel("Sample #")
ax.set_ylabel("ADC Counts")
ax.grid(True)
ax.legend(loc="upper right")
fig.subplots_adjust(left=0.081, right=0.985, bottom=0.058, top=0.965)
plt.savefig("out.png", dpi=100)
